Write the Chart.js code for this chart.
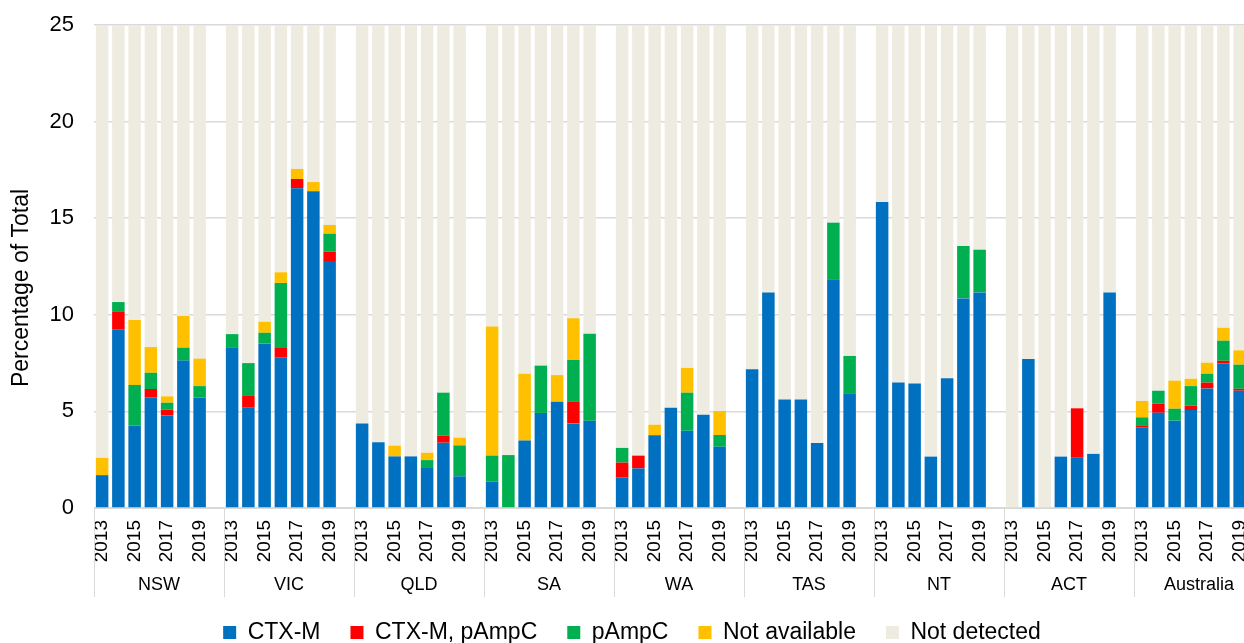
<!DOCTYPE html>
<html>
<head>
<meta charset="utf-8">
<title>ESBL mechanisms by state</title>
<script src="https://cdn.jsdelivr.net/npm/chart.js@4.4.1/dist/chart.umd.min.js"></script>
<style>
    html, body { margin: 0; padding: 0; background: #fff; overflow: hidden; }
    canvas { display: block; }
</style>
</head>
<body>
<canvas id="chart" width="1270" height="654"></canvas>
<script>
const FONT = "'Liberation Sans', Arial, sans-serif";

const regions = ['NSW', 'VIC', 'QLD', 'SA', 'WA', 'TAS', 'NT', 'ACT', 'Australia'];
const years = ['2013', '2014', '2015', '2016', '2017', '2018', '2019'];

// values per region, 2013..2019 (percentage of total)
const ctxM = [
    1.7, 9.25, 4.26, 5.71, 4.78, 7.63, 5.71,
    8.32, 5.21, 8.52, 7.8, 16.55, 16.39, 12.78,
    4.38, 3.4, 2.67, 2.67, 2.07, 3.38, 1.64,
    1.36, 0, 3.49, 4.92, 5.5, 4.38, 4.52,
    1.59, 2.05, 3.76, 5.19, 4.0, 4.83, 3.17,
    7.18, 11.16, 5.61, 5.61, 3.36, 11.84, 5.94,
    15.84, 6.49, 6.44, 2.66, 6.71, 10.85, 11.16,
    0, 7.71, 0, 2.66, 2.6, 2.8, 11.16,
    4.18, 4.93, 4.52, 5.07, 6.19, 7.47, 6.07
];
const ctxMpAmpC = [
    0, 0.93, 0, 0.45, 0.31, 0, 0,
    0, 0.59, 0, 0.52, 0.48, 0, 0.49,
    0, 0, 0, 0, 0, 0.36, 0,
    0, 0, 0, 0, 0, 1.11, 0,
    0.76, 0.66, 0, 0, 0, 0, 0,
    0, 0, 0, 0, 0, 0, 0,
    0, 0, 0, 0, 0, 0, 0,
    0, 0, 0, 0, 2.56, 0, 0,
    0.1, 0.47, 0, 0.23, 0.3, 0.15, 0.1
];
const pAmpC = [
    0, 0.48, 2.11, 0.84, 0.36, 0.67, 0.6,
    0.68, 1.7, 0.55, 3.33, 0, 0, 0.93,
    0, 0, 0, 0, 0.41, 2.23, 1.6,
    1.35, 2.74, 0, 2.45, 0, 2.17, 4.5,
    0.76, 0, 0, 0, 1.97, 0, 0.61,
    0, 0, 0, 0, 0, 2.93, 1.93,
    0, 0, 0, 0, 0, 2.71, 2.21,
    0, 0, 0, 0, 0, 0, 0,
    0.41, 0.67, 0.62, 1.01, 0.46, 1.04, 1.25
];
const notAvailable = [
    0.9, 0, 3.36, 1.33, 0.33, 1.64, 1.42,
    0, 0, 0.57, 0.55, 0.52, 0.48, 0.45,
    0, 0, 0.56, 0, 0.38, 0, 0.4,
    6.68, 0, 3.46, 0, 1.38, 2.16, 0,
    0, 0, 0.55, 0, 1.28, 0, 1.24,
    0, 0, 0, 0, 0, 0, 0,
    0, 0, 0, 0, 0, 0, 0,
    0, 0, 0, 0, 0, 0, 0,
    0.85, 0, 1.45, 0.38, 0.57, 0.67, 0.74
];
const notDetected = [
    97.4, 89.3, 90.3, 91.7, 94.2, 90.1, 92.3,
    91.0, 92.5, 90.4, 87.8, 82.5, 83.1, 85.4,
    95.6, 96.6, 96.8, 97.3, 97.1, 94.0, 96.4,
    90.6, 97.3, 93.1, 92.6, 93.1, 90.2, 91.0,
    96.9, 97.3, 95.7, 94.8, 92.8, 95.2, 95.0,
    92.8, 88.8, 94.4, 94.4, 96.6, 85.2, 92.1,
    84.2, 93.5, 93.6, 97.3, 93.3, 86.4, 86.6,
    100, 92.3, 100, 97.3, 94.8, 97.2, 88.8,
    94.5, 93.9, 93.4, 93.3, 92.5, 90.7, 91.8
];

// each region gets its 7 years plus one empty slot
const SLOTS = years.length + 1;

function withGaps(values) {
    const out = [];
    regions.forEach((r, g) => {
        for (let i = 0; i < years.length; i++) out.push(values[g * years.length + i]);
        out.push(null);
    });
    return out;
}

const xLabels = [];
regions.forEach(() => {
    years.forEach(y => xLabels.push(y));
    xLabels.push('');
});

/**
 * Region names, separators under the axis and the y title
 */
const groupAxisPlugin = {
    id: 'groupAxis',
    afterDraw(chart) {
        const { ctx, chartArea, scales: { x } } = chart;
        const half = (x.getPixelForValue(1) - x.getPixelForValue(0)) / 2;
        ctx.save();
        ctx.strokeStyle = '#d9d9d9';
        ctx.lineWidth = 1;
        for (let g = 0; g <= regions.length; g++) {
            const px = Math.round(x.getPixelForValue(g * SLOTS) - half) + 0.5;
            ctx.beginPath();
            ctx.moveTo(px, chartArea.bottom);
            ctx.lineTo(px, 597);
            ctx.stroke();
        }
        ctx.fillStyle = '#000';
        ctx.font = `18px ${FONT}`;
        ctx.textAlign = 'center';
        ctx.textBaseline = 'middle';
        regions.forEach((r, g) => {
            ctx.fillText(r, x.getPixelForValue(g * SLOTS + (SLOTS - 1) / 2), 585);
        });
        // y axis title
        ctx.translate(22, 288);
        ctx.rotate(-Math.PI / 2);
        ctx.font = `23px ${FONT}`;
        ctx.fillText('Percentage of Total', 0, 0);
        ctx.restore();
    }
};

function makeSet(label, values, color) {
    return {
        label: label,
        data: withGaps(values),
        backgroundColor: color,
        borderWidth: 0,
        barPercentage: 0.77,
        categoryPercentage: 1.0,
        stack: 'all',
    };
}

new Chart(document.getElementById('chart').getContext('2d'), {
    type: 'bar',
    data: {
        labels: xLabels,
        datasets: [
            makeSet('CTX-M', ctxM, '#0070C0'),
            makeSet('CTX-M, pAmpC', ctxMpAmpC, '#FF0000'),
            makeSet('pAmpC', pAmpC, '#00B050'),
            makeSet('Not available', notAvailable, '#FFC000'),
            makeSet('Not detected', notDetected, '#EEECE1'),
        ],
    },
    options: {
        responsive: false,
        animation: false,
        layout: { padding: { top: 25, left: 0, right: 6, bottom: 0 } },
        plugins: {
            tooltip: { enabled: false },
            title: { display: false },
            legend: {
                position: 'bottom',
                labels: {
                    boxWidth: 13,
                    boxHeight: 13,
                    padding: 30,
                    color: '#000',
                    font: { family: FONT, size: 23 },
                },
            },
        },
        scales: {
            x: {
                stacked: true,
                offset: true,
                grid: { display: false },
                border: { color: '#d9d9d9', width: 1 },
                ticks: {
                    autoSkip: false,
                    minRotation: 90,
                    maxRotation: 90,
                    padding: 4,
                    color: '#000',
                    font: { family: FONT, size: 19 },
                    callback: (v, i) => (i % 2 === 0 ? xLabels[i] : ''),
                },
                afterFit(scale) {
                    scale.height = 83;
                    scale.paddingLeft = 0;
                    scale.paddingRight = 0;
                },
            },
            y: {
                stacked: true,
                min: 0,
                max: 25,
                border: { display: false },
                grid: { color: '#d9d9d9', lineWidth: 1.5, drawTicks: false },
                ticks: {
                    stepSize: 5,
                    padding: 20,
                    color: '#000',
                    font: { family: FONT, size: 22 },
                },
                afterFit(scale) {
                    scale.width = 94;
                    scale.paddingTop = 0;
                    scale.paddingBottom = 0;
                },
            },
        },
    },
    plugins: [groupAxisPlugin],
});
</script>
</body>
</html>
